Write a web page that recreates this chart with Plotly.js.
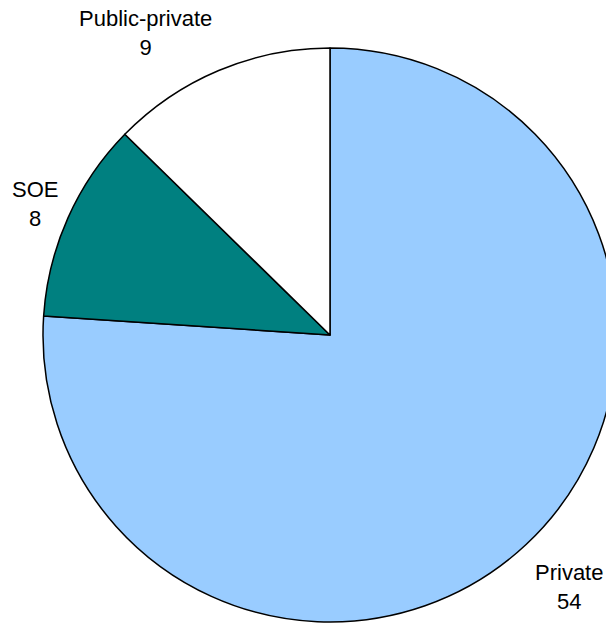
<!DOCTYPE html>
<html>
<head>
<meta charset="utf-8">
<script src="https://cdn.plot.ly/plotly-3.0.1.min.js"></script>
<style>
html, body { margin: 0; padding: 0; overflow: hidden; background: #fff; }
#chart { position: absolute; left: 0; top: 0; width: 700px; height: 700px; }
</style>
</head>
<body>
<div id="chart"></div>
<script>
// Data
const categories = ["Private", "SOE", "Public-private"];
const counts = [54, 8, 9];
const sliceColors = ["#99CCFF", "#008080", "#FFFFFF"];

const trace = {
  type: "pie",
  labels: categories,
  values: counts,
  sort: false,
  direction: "clockwise",
  rotation: 0,
  textinfo: "none",
  hoverinfo: "label+value",
  marker: { colors: sliceColors, line: { color: "#000000", width: 1.5 } },
  showlegend: false
};

// Label placement (paper coordinates of the plot area)
const labelX = [0.9164, -0.0139, 0.1794];
const labelY = [0.0618, 0.729, 1.0261];

const annotations = categories.map((c, i) => ({
  text: c + "<br>" + counts[i],
  xref: "paper", yref: "paper",
  x: labelX[i], y: labelY[i],
  xanchor: "center", yanchor: "middle",
  showarrow: false,
  font: { family: "Liberation Sans, Arial, sans-serif", size: 22, color: "#000" }
}));

const layout = {
  width: 700, height: 700,
  margin: { l: 43, t: 48, r: 83, b: 78, pad: 0 },
  paper_bgcolor: "#fff",
  plot_bgcolor: "#fff",
  annotations: annotations,
  font: { family: "Liberation Sans, Arial, sans-serif", size: 22, color: "#000" }
};

Plotly.newPlot("chart", [trace], layout, { displayModeBar: false, staticPlot: true });
</script>
</body>
</html>
